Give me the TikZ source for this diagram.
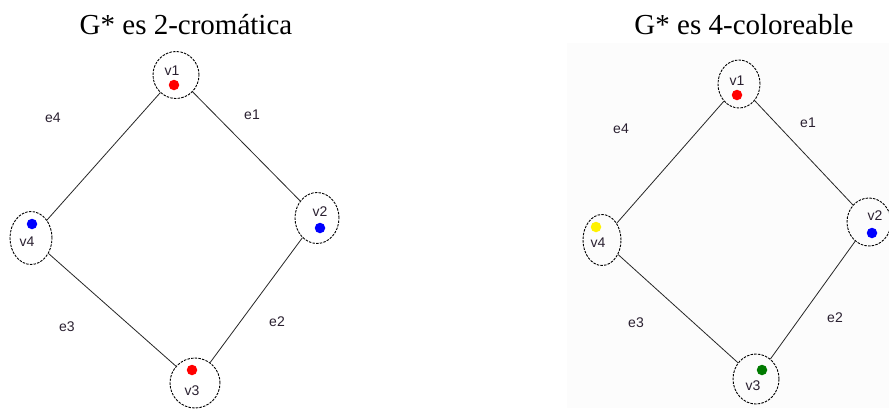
\documentclass[tikz,border=0pt]{standalone}
\usepackage{fontspec}
\setmainfont{Liberation Serif}
\newfontfamily\arialf{Liberation Sans}
\usetikzlibrary{shapes.geometric}
\definecolor{panelgray}{HTML}{FCFCFC}
\definecolor{lblcol}{HTML}{2A2030}
\definecolor{dotgreen}{HTML}{007A00}
\tikzset{
  vert/.style={draw=black, ellipse, dash pattern=on 2.5pt off 1.2pt, line width=0.9pt, inner sep=0pt},
  lbl/.style={font=\arialf\fontsize{14}{15}\selectfont, text=lblcol, inner sep=0pt},
  dotn/.style={circle, fill=#1, inner sep=0pt, minimum size=10.5pt},
  edge/.style={draw=black!85, line width=0.8pt},
  title/.style={font=\fontsize{29}{31}\selectfont, anchor=base, inner sep=0pt}
}
\begin{document}
\begin{tikzpicture}[x=1pt,y=-1pt]
\useasboundingbox[fill=white] (0,0) rectangle (889,408);
\fill[panelgray] (567,43) rectangle (889,408);
% titles
\node[title] (T1) at (186,34) {G* es 2-cromática};
\node[title] (T2) at (744,34) {G* es 4-coloreable};
% left graph
\node[vert, minimum width=46pt, minimum height=47pt] (L1) at (176,75) {};
\node[vert, minimum width=44pt, minimum height=51pt] (L2) at (317,218) {};
\node[vert, minimum width=50pt, minimum height=50pt] (L3) at (195,383) {};
\node[vert, minimum width=42pt, minimum height=53pt] (L4) at (31,238) {};
\draw[edge] (L1) -- (L2);
\draw[edge] (L2) -- (L3);
\draw[edge] (L3) -- (L4);
\draw[edge] (L4) -- (L1);
\node[lbl] (L1t) at (172,71) {v1};
\node[dotn=red] (L1d) at (174,85) {};
\node[lbl] (L2t) at (320,212) {v2};
\node[dotn=blue] (L2d) at (320,228) {};
\node[lbl] (L3t) at (192,391) {v3};
\node[dotn=red] (L3d) at (192,370) {};
\node[lbl] (L4t) at (27,242) {v4};
\node[dotn=blue] (L4d) at (32,224) {};
\node[lbl] (Le1) at (252,115) {e1};
\node[lbl] (Le2) at (277,322) {e2};
\node[lbl] (Le3) at (67,327) {e3};
\node[lbl] (Le4) at (53,118) {e4};
% right graph
\node[vert, minimum width=42pt, minimum height=48pt] (R1) at (739,84) {};
\node[vert, minimum width=44pt, minimum height=48pt] (R2) at (869,222) {};
\node[vert, minimum width=46pt, minimum height=50pt] (R3) at (756,379) {};
\node[vert, minimum width=38pt, minimum height=51pt] (R4) at (602,240) {};
\draw[edge] (R1) -- (R2);
\draw[edge] (R2) -- (R3);
\draw[edge] (R3) -- (R4);
\draw[edge] (R4) -- (R1);
\node[lbl] (R1t) at (737,81) {v1};
\node[dotn=red] (R1d) at (737,95) {};
\node[lbl] (R2t) at (875,216) {v2};
\node[dotn=blue] (R2d) at (872,233) {};
\node[lbl] (R3t) at (753,386) {v3};
\node[dotn=dotgreen] (R3d) at (762,370) {};
\node[lbl] (R4t) at (598,243) {v4};
\node[dotn=yellow] (R4d) at (596,227) {};
\node[lbl] (Re1) at (808,123) {e1};
\node[lbl] (Re2) at (835,318) {e2};
\node[lbl] (Re3) at (636,323) {e3};
\node[lbl] (Re4) at (621,129) {e4};
\end{tikzpicture}
\end{document}
